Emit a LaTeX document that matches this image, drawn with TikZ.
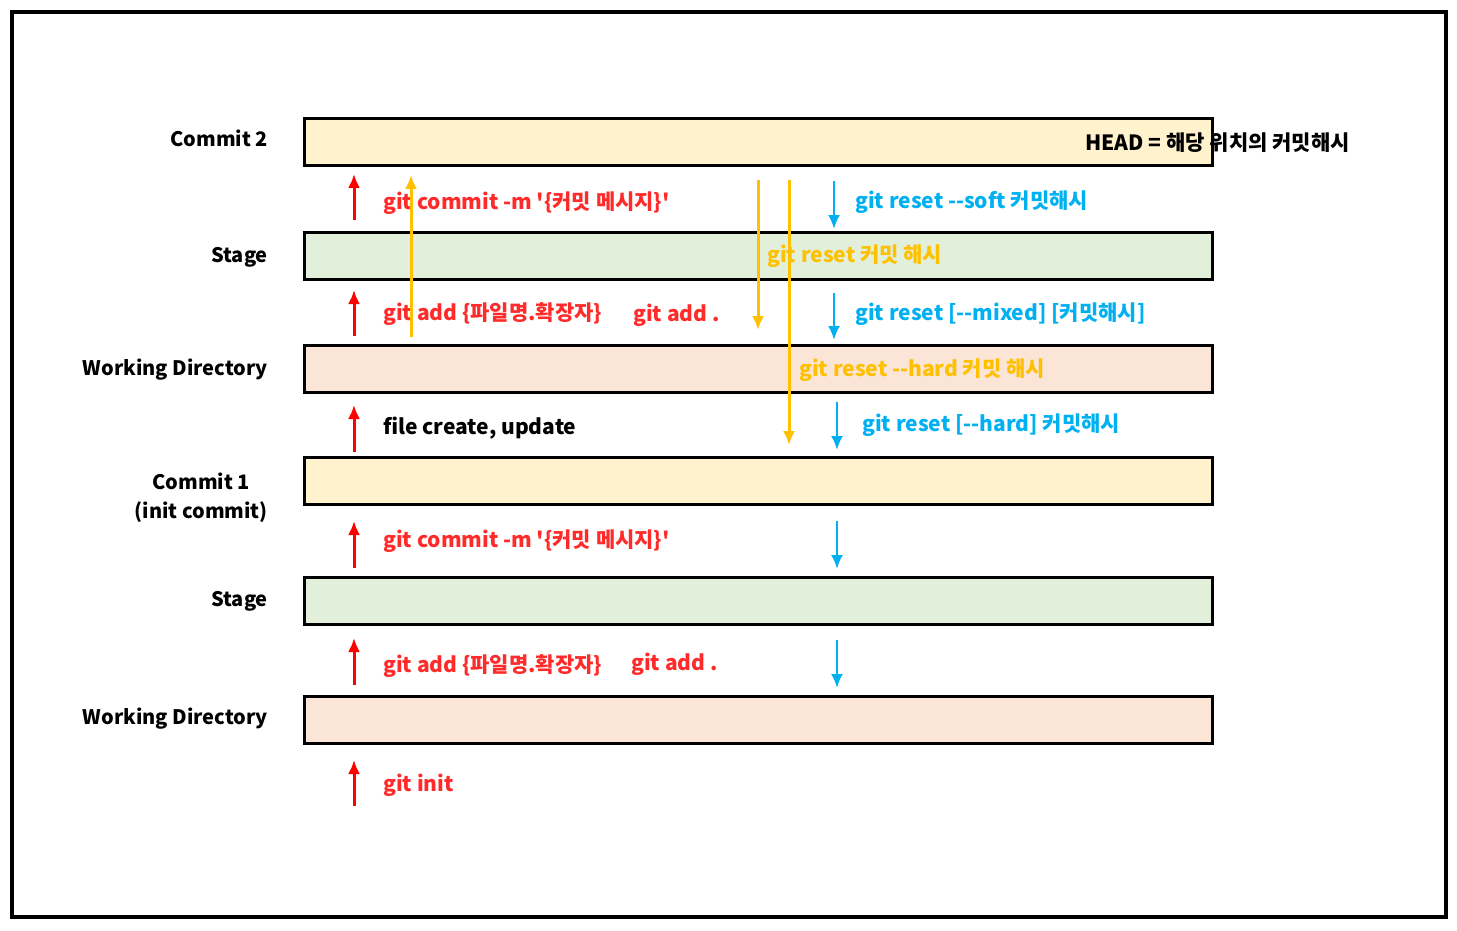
\documentclass[tikz,border=0pt]{standalone}
\usepackage{fontspec}
\setmainfont{Noto Sans CJK KR}
\usepackage{xcolor}
\usetikzlibrary{arrows.meta,positioning}
\definecolor{cream}{HTML}{FFF2CC}
\definecolor{leaf}{HTML}{E2EFDA}
\definecolor{peach}{HTML}{FBE5D6}
\definecolor{cmdred}{HTML}{FF2A2A}
\definecolor{cmdyellow}{HTML}{FFC000}
\definecolor{cmdblue}{HTML}{00B0F0}
\tikzset{>={Latex[length=14pt,width=12pt]}}
\tikzset{
  bar/.style={draw=black,line width=3pt,minimum width=908pt,minimum height=47pt,inner sep=0pt},
  lbl/.style={anchor=east,font=\fontsize{20}{29}\selectfont\bfseries,inner sep=0pt},
  cmd/.style={anchor=west,font=\fontsize{21}{24}\selectfont\bfseries,inner sep=0pt},
  uparrow/.style={->,draw=red,line width=3pt},
  yarrow/.style={->,draw=cmdyellow,line width=3pt},
  barrow/.style={->,draw=cmdblue,line width=2.5pt}
}
\newcommand\dd{-{}-}
\newcommand\sq{\textquotesingle}

\begin{document}
\begin{tikzpicture}[x=1pt,y=-1pt]
  \useasboundingbox (0,0) rectangle (1457,931);
  \draw[line width=4pt] (12,12) rectangle (1446,917);
  % Bars
  \node[bar,fill=cream] (commitB) at (758,142.5) {};
  \node[bar,fill=leaf]  (stageB)  at (758,255.5) {};
  \node[bar,fill=peach] (workB)   at (758,368.5) {};
  \node[bar,fill=cream] (commitA) at (758,480.5) {};
  \node[bar,fill=leaf]  (stageA)  at (758,600.5) {};
  \node[bar,fill=peach] (workA)   at (758,719.5) {};
  % Labels
  \node[lbl] (lcommitB) at (268,138) {Commit 2};
  \node[lbl] (lstageB)  at (268,257) {Stage};
  \node[lbl] (lworkB)   at (268,370) {Working Directory};
  \node[lbl,align=center] (lcommitA) at (268,498) {Commit 1\\(init commit)};
  \node[lbl] (lstageA)  at (268,601) {Stage};
  \node[lbl] (lworkA)   at (268,719) {Working Directory};
  \node[cmd] (head) at (1085,143) {HEAD = 해당 위치의 커밋해시};
  % Red arrows
  \foreach \i/\ya/\yb in {1/220/174,2/336/290,3/452/405,4/568/521,5/685/638,6/806/760}{
    \coordinate (r\i a) at (354,\ya);
    \coordinate (r\i b) at (354,\yb);
    \draw[uparrow] (r\i a) -- (r\i b);
  }
  % Red commands
  \node[cmd,text=cmdred] (commitTwo) at (383,203) {git commit -m \sq\{커밋 메시지\}\sq};
  \node[cmd,text=cmdred] (addTwo)    at (383,314) {git add \{파일명.확장자\}};
  \node[cmd,text=cmdred] (addDotTwo) at (633,315) {git add .};
  \node[cmd] (create) at (383,428) {file create, update};
  \node[cmd,text=cmdred] (commitOne) at (383,541) {git commit -m \sq\{커밋 메시지\}\sq};
  \node[cmd,text=cmdred] (addOne)    at (383,666) {git add \{파일명.확장자\}};
  \node[cmd,text=cmdred] (addDotOne) at (631,664) {git add .};
  \node[cmd,text=cmdred] (init)      at (383,785) {git init};
  % Yellow arrows
  \coordinate (y1a) at (411,337); \coordinate (y1b) at (411,175);
  \coordinate (y2a) at (758,180); \coordinate (y2b) at (758,330);
  \coordinate (y3a) at (789,180); \coordinate (y3b) at (789,445);
  \draw[yarrow] (y1a) -- (y1b);
  \draw[yarrow] (y2a) -- (y2b);
  \node[cmd,text=cmdyellow] (resetY) at (767,256) {git reset 커밋 해시};
  \node[cmd,text=cmdyellow] (hardY)  at (799,370) {git reset \dd hard 커밋 해시};
  \draw[yarrow] (y3a) -- (y3b);
  % Blue arrows
  \foreach \i/\x/\ya/\yb in {1/834/181/229,2/834/293/340,3/837/402/450,4/837/521/569,5/837/640/688}{
    \coordinate (b\i a) at (\x,\ya);
    \coordinate (b\i b) at (\x,\yb);
    \draw[barrow] (b\i a) -- (b\i b);
  }
  \node[cmd,text=cmdblue] (soft)  at (855,202) {git reset \dd soft 커밋해시};
  \node[cmd,text=cmdblue] (mixed) at (855,314) {git reset [\dd mixed] [커밋해시]};
  \node[cmd,text=cmdblue] (hard)  at (862,425) {git reset [\dd hard] 커밋해시};
\end{tikzpicture}
\end{document}
